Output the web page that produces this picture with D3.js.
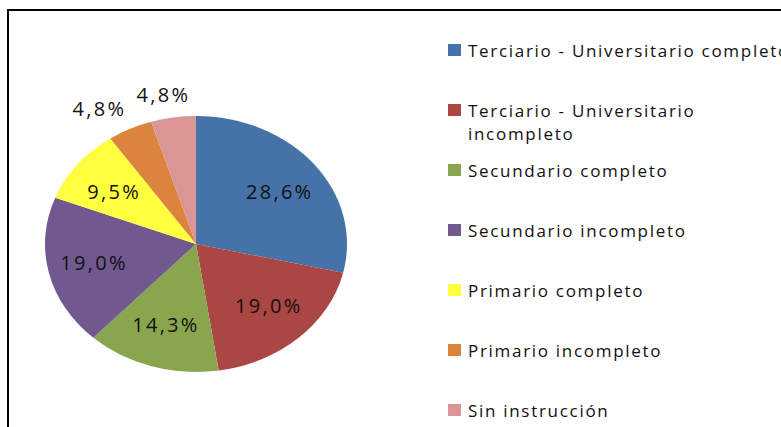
<!DOCTYPE html>
<html>
<head>
<meta charset="utf-8">
<script src="https://cdn.jsdelivr.net/npm/d3@7"></script>
<style>
  body { margin: 0; background: #fff; }
  svg text { font-family: "Open Sans", sans-serif; fill: #111; }
</style>
</head>
<body>
<div id="chart"></div>
<script>
// data
var categories = ["Terciario - Universitario completo", "Terciario - Universitario\nincompleto",
  "Secundario completo", "Secundario incompleto", "Primario completo",
  "Primario incompleto", "Sin instrucción"]
var values = [28.6, 19.0, 14.3, 19.0, 9.5, 4.8, 4.8]
var colours = ["#4572A7", "#AA4643", "#89A54E", "#71588F", "#FFFF40", "#DB843D", "#D99694"]
// last two sit outside the pie
var outside = [false, false, false, false, false, true, true]

var w = 781, h = 427
var cx = 196, cy = 244, rx = 151, ry = 128

var svg = d3.select("#chart").append("svg")
  .attr("width", w)
  .attr("height", h)

// frame of the chart area (runs off the right and bottom)
svg.append("rect")
  .attr("x", 8).attr("y", 10)
  .attr("width", 900).attr("height", 600)
  .attr("fill", "none")
  .attr("stroke", "#000")
  .attr("stroke-width", 2)

var slices = d3.pie().sort(null)(values)
var arc = d3.arc().innerRadius(0).outerRadius(ry)

// pie drawn as circle then squashed into an ellipse
var pieG = svg.append("g")
  .attr("transform", `translate(${cx},${cy}) scale(${rx/ry},1)`)

pieG.selectAll("path")
  .data(slices).enter()
  .append("path")
  .attr("d", arc)
  .attr("fill", function(d, i) { return colours[i] })

var fmt = function(v) { return v.toFixed(1).replace(".", ",") + "%" }

svg.selectAll("text.lbl")
  .data(slices).enter()
  .append("text")
  .attr("class", "lbl")
  .attr("x", function(d, i) {
    var a = (d.startAngle + d.endAngle) / 2
    if (outside[i]) return cx + Math.sin(a) * rx * 1.3 + Math.sin(a) * 27 + 1
    return cx + Math.sin(a) * rx * 0.7 + 1
  })
  .attr("y", function(d, i) {
    var a = (d.startAngle + d.endAngle) / 2
    if (outside[i]) return cy - Math.cos(a) * ry * 1.18
    return cy - Math.cos(a) * ry * 0.66
  })
  .attr("text-anchor", "middle")
  .attr("dominant-baseline", "central")
  .style("font-size", "20px")
  .style("letter-spacing", "2.3px")
  .text(function(d) { return fmt(d.data) })

// legend
var lg = svg.append("g")
var rows = lg.selectAll("g")
  .data(categories).enter()
  .append("g")
  .attr("transform", function(d, i) { return `translate(448,${44 + i*60})` })

rows.append("rect")
  .attr("width", 13).attr("height", 12)
  .attr("fill", function(d, i) { return colours[i] })

rows.append("text")
  .attr("x", 20)
  .attr("y", 12.5)
  .style("font-size", "17px")
  .style("letter-spacing", "1.7px")
  .selectAll("tspan")
  .data(function(d) { return d.split("\n") })
  .enter().append("tspan")
  .attr("x", 20)
  .attr("dy", function(d, i) { return i == 0 ? 0 : 23 })
  .text(function(d) { return d })
</script>
</body>
</html>
